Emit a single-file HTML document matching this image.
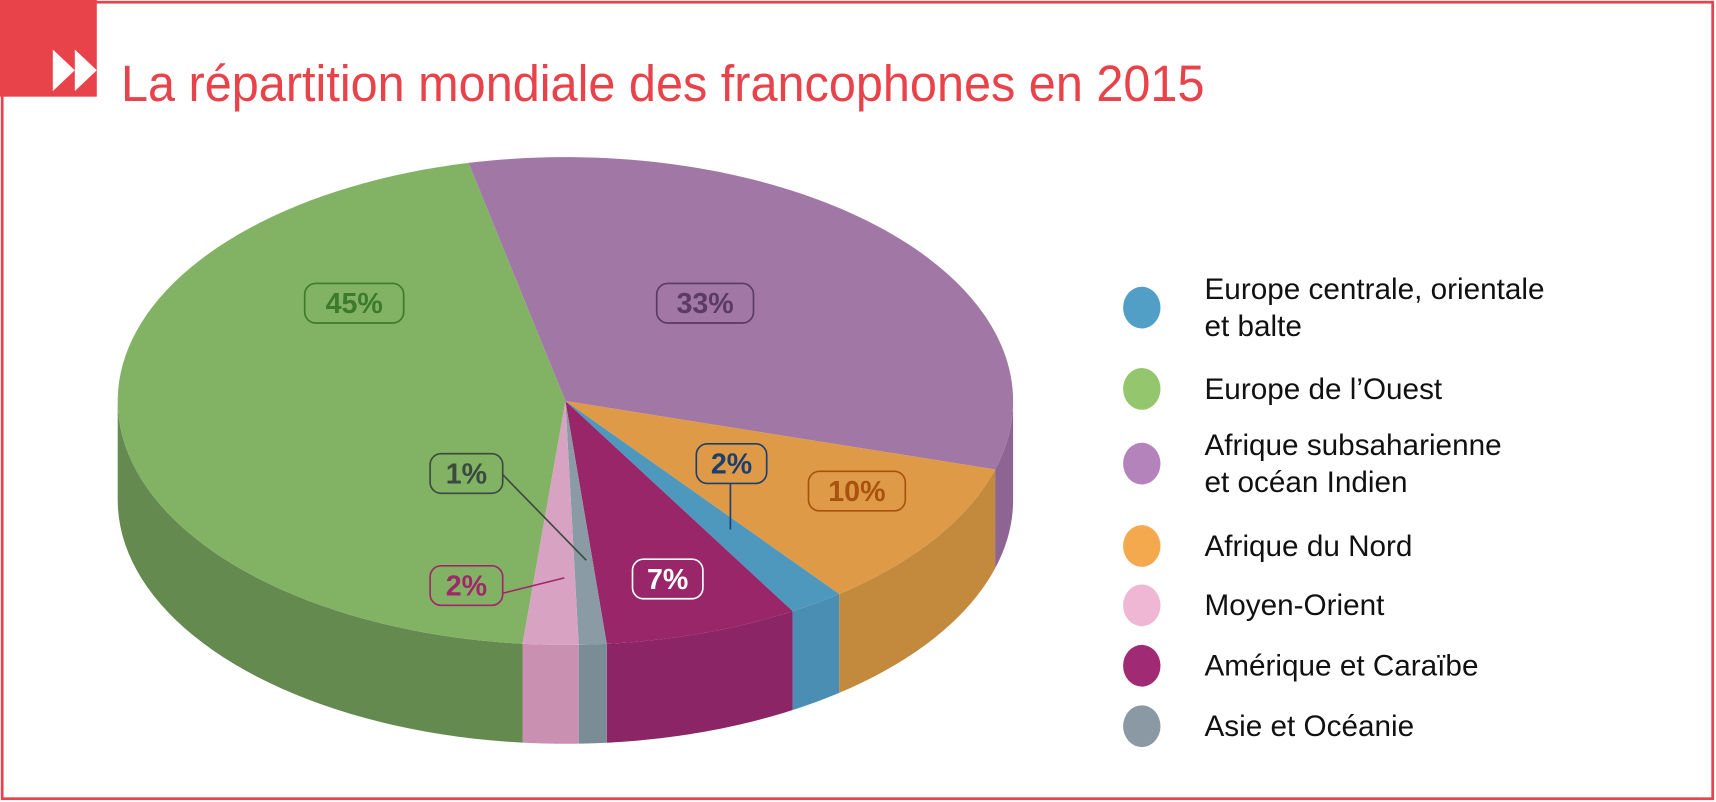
<!DOCTYPE html>
<html><head><meta charset="utf-8"><style>
html,body{margin:0;padding:0;background:#fff;width:1716px;height:802px;overflow:hidden}
svg{display:block}
text{font-family:"Liberation Sans",sans-serif}
</style></head><body>
<svg id="chart" width="1716" height="802" viewBox="0 0 1560 730" preserveAspectRatio="none" xmlns="http://www.w3.org/2000/svg">
<rect x="2" y="2" width="1555" height="725" fill="none" stroke="#e8434a" stroke-width="2.5"/>
<rect x="0" y="0" width="88" height="88" fill="#e8434a"/>
<g fill="#fff">
<polygon points="48,45 68,64 48,83"/><polygon points="68,45 88,64 68,83"/>
</g>
<text x="110" y="92" font-size="46" fill="#e8434a" textLength="985" lengthAdjust="spacingAndGlyphs">La répartition mondiale des francophones en 2015</text>
<g id="sides"></g><g id="tops"></g><g id="labels"></g><g id="legend"></g>
</svg>
<script>
const categories = ["Afrique subsaharienne et océan Indien","Afrique du Nord","Europe centrale, orientale et balte","Amérique et Caraïbe","Asie et Océanie","Moyen-Orient","Europe de l’Ouest"];
const values = [33, 10, 2, 7, 1, 2, 45];
const valueLabels = ["33%","10%","2%","7%","1%","2%","45%"];
const startAngle = -12.5;
const topColors = ["#a177a5","#de9a47","#4e98bd","#982669","#8a9ba5","#d8a3c2","#82b263"];
const sideColors = ["#8e6493","#c38a3e","#4a8fb3","#8c2565","#7a8c96","#c990b2","#648a4f"];
const legendNames = ["Europe centrale, orientale|et balte","Europe de l’Ouest","Afrique subsaharienne|et océan Indien","Afrique du Nord","Moyen-Orient","Amérique et Caraïbe","Asie et Océanie"];
const legendColors = ["#519fc7","#94c66d","#b583bc","#f5a94e","#f0b7d4","#a12a74","#8a99a3"];

const NS="http://www.w3.org/2000/svg";
const cx=514, cy=365, rx=407, ry=222, depth=90;
function pt(t,dy){const r=t*Math.PI/180;return [cx+rx*Math.sin(r), cy-ry*Math.cos(r)+(dy||0)];}
function mk(tag,attrs,parent){const e=document.createElementNS(NS,tag);for(const k in attrs)e.setAttribute(k,attrs[k]);parent.appendChild(e);return e;}
const total=values.reduce((a,b)=>a+b,0);
const sides=document.getElementById('sides'), tops=document.getElementById('tops');
let a=startAngle; const angles=[];
values.forEach((v,i)=>{const a2=a+v/total*360;angles.push([a,a2]);a=a2;});
angles.forEach(([a1,a2],i)=>{
  for(const off of [0,360,-360]){
    const s=Math.max(a1+off,90), e=Math.min(a2+off,270);
    if(e>s){
      let d='';const n=40;
      for(let k=0;k<=n;k++){const p=pt(s+(e-s)*k/n);d+=(k?'L':'M')+p[0].toFixed(2)+','+p[1].toFixed(2);}
      for(let k=n;k>=0;k--){const p=pt(s+(e-s)*k/n,depth);d+='L'+p[0].toFixed(2)+','+p[1].toFixed(2);}
      const el=mk('path',{d:d+'Z',fill:sideColors[i]},sides);
      
      
    }
  }
  let d='M'+cx+','+cy;const n=80;
  for(let k=0;k<=n;k++){const p=pt(a1+(a2-a1)*k/n);d+='L'+p[0].toFixed(2)+','+p[1].toFixed(2);}
  const sl=mk('path',{d:d+'Z',fill:topColors[i]},tops);
  
  
});
const labelBoxes=[[641,276,88,"#5b3a63","#5b3a63",null],[779,447,88,"#a8520e","#a8520e",null],[665,422,64,"#1c3f6e","#1c3f6e",[664,440,664,482]],[607,527,64,"#fff","#fff",null],[424,431,66,"#3b4a40","#3b4a40",[457,432,533,510]],[424,533,66,"#a0286a","#a0286a",[457,540,513,526]],[322,276,90,"#3d7a2e","#3d7a2e",null]];
const labels=document.getElementById('labels');
labelBoxes.forEach((b,i)=>{
  const g=mk('g',{},labels);
  
  
  if(b[5]) mk('line',{x1:b[5][0],y1:b[5][1],x2:b[5][2],y2:b[5][3],stroke:b[4],'stroke-width':1.5},g);
  mk('rect',{x:b[0]-b[2]/2,y:b[1]-18,width:b[2],height:36,rx:10,fill:'none',stroke:b[4],'stroke-width':1.5},g);
  const t=mk('text',{x:b[0],y:b[1]+9,'text-anchor':'middle','font-size':26,'font-weight':'bold',fill:b[3]},g);
  t.textContent=valueLabels[i];
});
const legend=document.getElementById('legend');
const legY=[280,354,422,497,551,606,661];
legendNames.forEach((nm,i)=>{
  const g=mk('g',{},legend);
  
  
  mk('ellipse',{cx:1038,cy:legY[i],rx:17,ry:19,fill:legendColors[i]},g);
  const lines=nm.split('|');
  lines.forEach((ln,j)=>{
    const y=legY[i]+(lines.length>1?(j===0?-17:17):0)+9;
    const t=mk('text',{x:1095,y:y,'font-size':27,fill:'#111'},g);
    t.textContent=ln;
  });
});
</script>
</body></html>
